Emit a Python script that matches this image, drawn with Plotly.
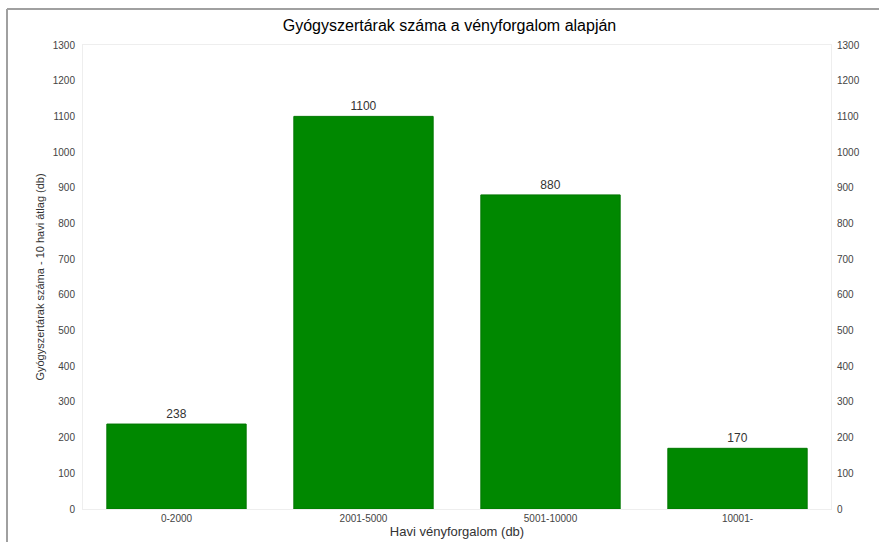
import plotly.graph_objects as go

categories = ["0-2000", "2001-5000", "5001-10000", "10001-"]
values = [238, 1100, 880, 170]
y_ticks = list(range(0, 1301, 100))

title_text = "Gyógyszertárak száma a vényforgalom alapján"
x_title = "Havi vényforgalom (db)"
y_title = "Gyógyszertárak száma - 10 havi átlag (db)"

W, H = 879, 542
L, R, T, B = 83, W - 831, 45, H - 509
FONT = "Liberation Sans, Arial"

fig = go.Figure()
fig.add_trace(go.Bar(
    x=categories, y=values,
    marker=dict(color="#008800", line=dict(color="#007700", width=1)),
    width=0.745,
    text=[str(v) for v in values], textposition="outside",
    textfont=dict(family=FONT, size=12, color="#333333"),
    cliponaxis=False,
    hoverinfo="skip",
))
# invisible trace for right axis
fig.add_trace(go.Scatter(x=categories, y=values, yaxis="y2", mode="markers",
                         marker=dict(opacity=0), showlegend=False, hoverinfo="skip"))

tickfont = dict(family=FONT, size=10, color="#444444")
fig.update_layout(
    width=W, height=H,
    margin=dict(l=L, r=R, t=T, b=B),
    paper_bgcolor="white", plot_bgcolor="white",
    showlegend=False,
    title=dict(text=title_text, x=449.5 / W, xanchor="center", y=1 - 25 / H, yanchor="middle",
               font=dict(family=FONT, size=16, color="#000000")),
    xaxis=dict(showgrid=False, zeroline=False, showline=True, linecolor="#eeeeee",
               mirror=True, ticks="", tickfont=tickfont, automargin=False,
               title=dict(text=x_title, standoff=2,
                          font=dict(family=FONT, size=13, color="#333333"))),
    yaxis=dict(range=[0, 1300], tickvals=y_ticks, showgrid=False, zeroline=False,
               showline=True, linecolor="#eeeeee", mirror=True, ticks="",
               tickfont=tickfont, ticklabelstandoff=5, automargin=False,
               title=dict(text=y_title, standoff=5,
                          font=dict(family=FONT, size=11, color="#333333"))),
    yaxis2=dict(range=[0, 1300], tickvals=y_ticks, overlaying="y", side="right",
                showgrid=False, zeroline=False, showline=False, ticks="",
                tickfont=tickfont, ticklabelstandoff=5, automargin=False),
    bargap=0.255,
)

pw, ph = W - L - R, H - T - B
# outer frame lines (left and top)
fx = (7 - L) / pw
fy = 1 + (T - 9) / ph
fig.add_shape(type="line", xref="paper", yref="paper",
              x0=fx, x1=fx, y0=-0.5, y1=fy,
              line=dict(color="#a0a0a0", width=2))
fig.add_shape(type="line", xref="paper", yref="paper",
              x0=fx, x1=1.5, y0=fy, y1=fy,
              line=dict(color="#a0a0a0", width=2))

fig.write_html("out.html",
               config={"displayModeBar": False},
               post_script="document.body.style.margin='0';document.body.style.overflow='hidden';")
